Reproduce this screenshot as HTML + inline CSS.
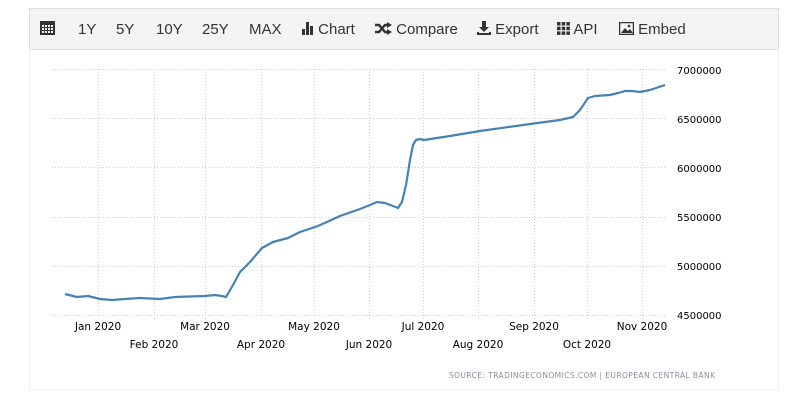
<!DOCTYPE html>
<html><head><style>
body{margin:0;width:787px;height:411px;background:#fff;overflow:hidden;font-family:"Liberation Sans",sans-serif;}
.tb{position:absolute;left:29px;top:8px;width:748px;height:40px;background:#f4f4f4;border:1px solid #ddd;}
.tb span{position:absolute;top:12px;font-size:15px;color:#333;line-height:17px;white-space:nowrap;}
.tb svg{vertical-align:-1px;}
.panel{position:absolute;left:29px;top:49px;width:748px;height:340px;border:1px solid #eee;border-top:none;}
</style></head><body>
<div class="tb">
<span style="left:10px;top:11px"><svg width="15" height="15"><rect x="0" y="1" width="15" height="14" fill="#333"/><g fill="#f4f4f4"><rect x="2" y="5" width="2" height="2"/><rect x="5" y="5" width="2" height="2"/><rect x="8" y="5" width="2" height="2"/><rect x="11" y="5" width="2" height="2"/><rect x="2" y="8" width="2" height="2"/><rect x="5" y="8" width="2" height="2"/><rect x="8" y="8" width="2" height="2"/><rect x="11" y="8" width="2" height="2"/><rect x="2" y="11" width="2" height="2"/><rect x="5" y="11" width="2" height="2"/><rect x="8" y="11" width="2" height="2"/><rect x="11" y="11" width="2" height="2"/></g></svg></span>
<span style="left:48px">1Y</span><span style="left:86px">5Y</span><span style="left:126px">10Y</span><span style="left:172px">25Y</span><span style="left:219px">MAX</span>
<span style="left:272px"><svg width="12" height="13"><rect x="0" y="7" width="3" height="6" fill="#333"/><rect x="4" y="0" width="3" height="13" fill="#333"/><rect x="8" y="4" width="3" height="9" fill="#333"/></svg> Chart</span>
<span style="left:345px"><svg width="17" height="13"><path d="M0 3h4l6 7h3" fill="none" stroke="#333" stroke-width="2.4"/><path d="M0 10h4l6-7h3" fill="none" stroke="#333" stroke-width="2.4"/><path d="M12 0l5 3-5 3z M12 7l5 3-5 3z" fill="#333"/></svg> Compare</span>
<span style="left:447px"><svg width="14" height="14"><path d="M5 0h4v6h3l-5 5-5-5h3z M0 11h2v1h10v-1h2v3H0z" fill="#333"/></svg> Export</span>
<span style="left:527px"><svg width="13" height="13" fill="#333"><rect x="0" y="0" width="3.5" height="3.5"/><rect x="4.7" y="0" width="3.5" height="3.5"/><rect x="9.4" y="0" width="3.5" height="3.5"/><rect x="0" y="4.7" width="3.5" height="3.5"/><rect x="4.7" y="4.7" width="3.5" height="3.5"/><rect x="9.4" y="4.7" width="3.5" height="3.5"/><rect x="0" y="9.4" width="3.5" height="3.5"/><rect x="4.7" y="9.4" width="3.5" height="3.5"/><rect x="9.4" y="9.4" width="3.5" height="3.5"/></svg> API</span>
<span style="left:589px"><svg width="15" height="13"><rect x="0.5" y="0.5" width="14" height="12" fill="none" stroke="#333" stroke-width="1.5"/><path d="M2 11l4-5 3 3 2-2 3 4z" fill="#333"/><circle cx="10" cy="4" r="1.3" fill="#333"/></svg> Embed</span>
</div>
<div class="panel"></div>
<svg style="position:absolute;left:0;top:0" width="787" height="411">
<g stroke="#ccc" stroke-dasharray="1,2" stroke-width="1">
<line x1="52" x2="665" y1="69.5" y2="69.5"/><line x1="52" x2="665" y1="118.5" y2="118.5"/><line x1="52" x2="665" y1="167.5" y2="167.5"/><line x1="52" x2="665" y1="217.5" y2="217.5"/><line x1="52" x2="665" y1="266.5" y2="266.5"/><line x1="52" x2="665" y1="315.5" y2="315.5"/>
<line x1="98.5" x2="98.5" y1="69" y2="320"/><line x1="154.5" x2="154.5" y1="69" y2="320"/><line x1="205.5" x2="205.5" y1="69" y2="320"/><line x1="261.5" x2="261.5" y1="69" y2="320"/><line x1="314.5" x2="314.5" y1="69" y2="320"/><line x1="369.5" x2="369.5" y1="69" y2="320"/><line x1="423.5" x2="423.5" y1="69" y2="320"/><line x1="478.5" x2="478.5" y1="69" y2="320"/><line x1="534.5" x2="534.5" y1="69" y2="320"/><line x1="587.5" x2="587.5" y1="69" y2="320"/><line x1="642.5" x2="642.5" y1="69" y2="320"/>
</g>
<polyline fill="none" stroke="#4682b4" stroke-width="2.2" stroke-linejoin="round" points="65,294 77,297 88,296 100,299 112,300 125,299 140,298 160,299 175,297 205,296 215,295 222,296 226,297 233,285 240,272 250,262 262,248 273,242 288,238 300,232 318,226 340,216 360,209 370,205 377,202 385,203 393,206 398,208 402,202 406,185 410,160 413,145 416,140 420,139 424,140 450,136 480,131 530,124 560,120 573,117 580,110 588,98 595,96 610,95 618,93 625,91 632,91 640,92 650,90 665,85"/>
<g font-family="'DejaVu Sans',sans-serif" font-size="10.5" fill="#000" text-anchor="middle">
<text x="98" y="330">Jan 2020</text><text x="154" y="348">Feb 2020</text><text x="205" y="330">Mar 2020</text><text x="261" y="348">Apr 2020</text><text x="314" y="330">May 2020</text><text x="369" y="348">Jun 2020</text><text x="423" y="330">Jul 2020</text><text x="478" y="348">Aug 2020</text><text x="534" y="330">Sep 2020</text><text x="587" y="348">Oct 2020</text><text x="642" y="330">Nov 2020</text>
</g>
<g font-family="'DejaVu Sans',sans-serif" font-size="10" fill="#000">
<text x="677" y="74">7000000</text><text x="677" y="123">6500000</text><text x="677" y="172">6000000</text><text x="677" y="221">5500000</text><text x="677" y="270">5000000</text><text x="677" y="319">4500000</text>
</g>
<text x="449" y="378" font-family="'DejaVu Sans',sans-serif" font-size="7.5" fill="#8a8aa0" textLength="266" lengthAdjust="spacing">SOURCE:  TRADINGECONOMICS.COM  |  EUROPEAN  CENTRAL  BANK</text>
</svg>
</body></html>
